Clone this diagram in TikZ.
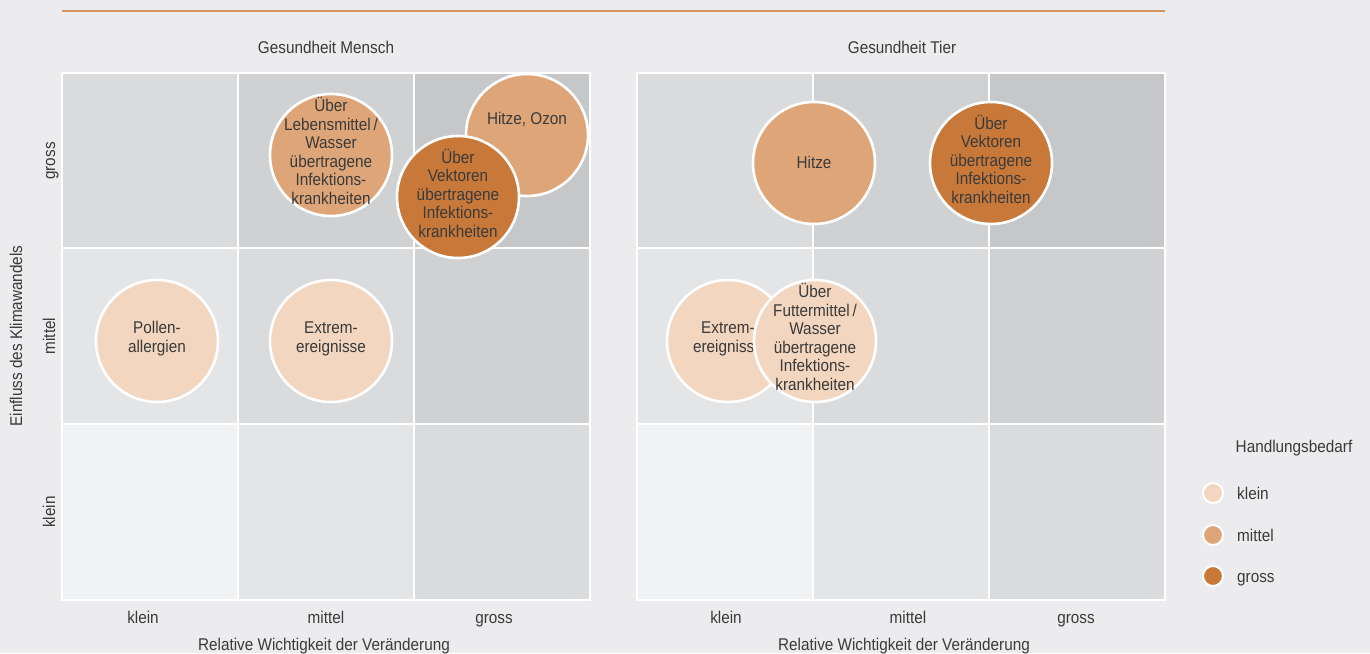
\documentclass[tikz,border=0pt]{standalone}
\usepackage{fontspec}
\setmainfont{Liberation Sans}[FakeStretch=0.9]
\definecolor{bg}{HTML}{ECECEE}
\definecolor{c0}{HTML}{F1F2F3}
\definecolor{c1}{HTML}{E4E5E7}
\definecolor{c2}{HTML}{DADBDD}
\definecolor{c3}{HTML}{D0D1D3}
\definecolor{c4}{HTML}{C6C7C9}
\definecolor{hk}{HTML}{F2D6C0}
\definecolor{hm}{HTML}{DEA578}
\definecolor{hg}{HTML}{C8793A}
\definecolor{rule}{HTML}{D49562}
\definecolor{txt}{HTML}{3A3A3A}
\tikzset{
  cell/.style={draw=white, line width=1.3pt},
  bub/.style={circle, draw=white, line width=2.6pt, minimum size=122pt, inner sep=-40pt,
    align=center, text=txt, text depth=8pt, font=\fontsize{17}{18.5}\selectfont},
  lbl/.style={text=txt, font=\fontsize{17}{18}\selectfont, inner sep=0pt, anchor=base},
  leg/.style={circle, draw=white, line width=2pt, minimum size=20pt, inner sep=0pt},
}
\begin{document}
\begin{tikzpicture}[x=1pt,y=-1pt]
\fill[bg] (0,0) rectangle (1370,653);
\useasboundingbox (0,0) rectangle (1370,653);
\draw[rule, line width=1.4pt] (62,11) -- (1165,11);
% grids
\foreach \ox in {62,637}{
  \fill[c2] (\ox,73) rectangle ++(176,175);
  \fill[c3] (\ox+176,73) rectangle ++(176,175);
  \fill[c4] (\ox+352,73) rectangle ++(176,175);
  \fill[c1] (\ox,248) rectangle ++(176,176);
  \fill[c2] (\ox+176,248) rectangle ++(176,176);
  \fill[c3] (\ox+352,248) rectangle ++(176,176);
  \fill[c0] (\ox,424) rectangle ++(176,176);
  \fill[c1] (\ox+176,424) rectangle ++(176,176);
  \fill[c2] (\ox+352,424) rectangle ++(176,176);
  \draw[cell] (\ox,73) rectangle (\ox+528,600);
  \draw[cell] (\ox+176,73) -- (\ox+176,600) (\ox+352,73) -- (\ox+352,600);
  \draw[cell] (\ox,248) -- (\ox+528,248) (\ox,424) -- (\ox+528,424);
}
% titles
\node[lbl] (tm) at (326,53) {Gesundheit Mensch};
\node[lbl] (tt) at (902,53) {Gesundheit Tier};
% y axis
\node[lbl, rotate=90] (yg) at (55,161) {gross};
\node[lbl, rotate=90] (ym) at (55,336) {mittel};
\node[lbl, rotate=90] (yk) at (55,512) {klein};
\node[lbl, rotate=90] (ya) at (22,336) {Einfluss des Klimawandels};
% x axis
\node[lbl] (xk1) at (143,623) {klein};
\node[lbl] (xm1) at (326,623) {mittel};
\node[lbl] (xg1) at (494,623) {gross};
\node[lbl] (xa1) at (324,650) {Relative Wichtigkeit der Veränderung};
\node[lbl] (xk2) at (726,623) {klein};
\node[lbl] (xm2) at (908,623) {mittel};
\node[lbl] (xg2) at (1076,623) {gross};
\node[lbl] (xa2) at (904,650) {Relative Wichtigkeit der Veränderung};
% bubbles left
\node[bub, fill=hm] (leb) at (331,155) {Über\\Lebensmittel\,/\\Wasser\\übertragene\\Infektions-\\krankheiten};
\node[bub, fill=hm] (hoz) at (527,135) {};
\node[lbl] (hoztext) at (527,124) {Hitze, Ozon};
\node[bub, fill=hg] (vek1) at (458,197) {Über\\Vektoren\\übertragene\\Infektions-\\krankheiten};
\node[bub, fill=hk] (pol) at (157,341) {Pollen-\\allergien};
\node[bub, fill=hk] (ext1) at (331,341) {Extrem-\\ereignisse};
% bubbles right
\node[bub, fill=hm, text depth=2pt] (hit) at (814,163) {Hitze};
\node[bub, fill=hg] (vek2) at (991,163) {Über\\Vektoren\\übertragene\\Infektions-\\krankheiten};
\node[bub, fill=hk] (ext2) at (728,341) {Extrem-\\ereignisse};
\node[bub, fill=hk] (fut) at (815,341) {Über\\Futtermittel\,/\\Wasser\\übertragene\\Infektions-\\krankheiten};
% legend
\node[lbl] (lt) at (1294,452) {Handlungsbedarf};
\node[leg, fill=hk] (l1) at (1213,493) {};
\node[leg, fill=hm] (l2) at (1213,535) {};
\node[leg, fill=hg] (l3) at (1213,576) {};
\node[lbl, anchor=base west] (l1t) at (1237,499) {klein};
\node[lbl, anchor=base west] (l2t) at (1237,541) {mittel};
\node[lbl, anchor=base west] (l3t) at (1237,582) {gross};
\end{tikzpicture}
\end{document}
